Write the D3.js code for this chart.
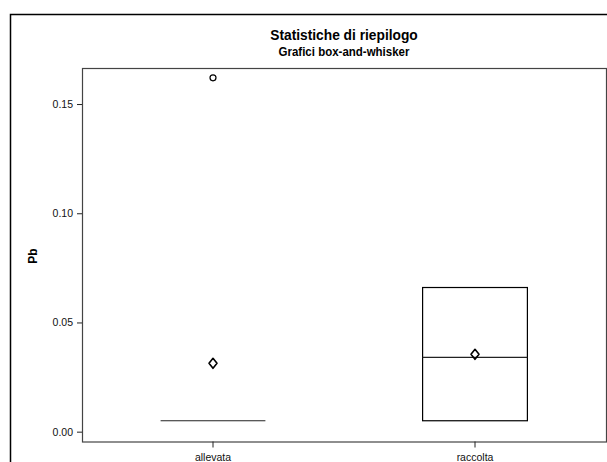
<!DOCTYPE html>
<html><head><meta charset="utf-8">
<script src="https://cdn.jsdelivr.net/npm/d3@7"></script>
<style>
body{margin:0;background:#fff;}
svg{display:block;}
text{font-family:"Liberation Sans",Arial,sans-serif;}
</style></head>
<body>
<svg id="chart" width="607" height="462"></svg>
<script>
const categories = ["allevata", "raccolta"];
const q1 = [0.005, 0.005];
const median = [0.005, 0.034];
const q3 = [0.005, 0.066];
const whiskerLow = [0.005, 0.005];
const whiskerHigh = [0.005, 0.066];
const means = [0.0313, 0.0354];
const outliers = [[0.162], []];
const yTicks = [0.00, 0.05, 0.10, 0.15];

const svg = d3.select("#chart");
const plot = {left: 82, right: 606, top: 68, bottom: 441.5};
const midX = (plot.left + plot.right) / 2;

// outer frame
svg.append("rect").attr("x", 10.5).attr("y", 14.5).attr("width", 620).attr("height", 470)
  .attr("fill", "none").attr("stroke", "#000").attr("stroke-width", 1.5);

const x = d3.scaleBand().domain(categories).range([plot.left, plot.right]).padding(0);
const y = d3.scaleLinear().domain([-0.0045, 0.1665]).range([plot.bottom, plot.top]);

// plot frame
svg.append("rect").attr("x", plot.left + 0.5).attr("y", plot.top + 0.5)
  .attr("width", plot.right - plot.left).attr("height", plot.bottom - plot.top)
  .attr("fill", "none").attr("stroke", "#444").attr("stroke-width", 1.2);

// titles
svg.append("text").attr("x", midX).attr("y", 40)
  .attr("text-anchor", "middle").attr("font-weight", "bold").attr("font-size", 14.5)
  .attr("transform", `translate(${midX},0) scale(0.95,1) translate(${-midX},0)`)
  .text("Statistiche di riepilogo");
svg.append("text").attr("x", midX).attr("y", 56)
  .attr("text-anchor", "middle").attr("font-weight", "bold").attr("font-size", 12.5)
  .attr("transform", `translate(${midX},0) scale(0.92,1) translate(${-midX},0)`)
  .text("Grafici box-and-whisker");

// y axis
const yAxis = d3.axisLeft(y).tickValues(yTicks).tickFormat(d3.format(".2f")).tickSize(5).tickPadding(4);
const gy = svg.append("g").attr("transform", `translate(${plot.left},0)`).call(yAxis);
gy.select(".domain").remove();
gy.selectAll("text").attr("font-size", 10.5).attr("font-family", "\"Liberation Sans\",Arial,sans-serif").attr("fill", "#111");
gy.selectAll("line").attr("stroke", "#222");

// x axis
const xAxis = d3.axisBottom(x).tickSize(6).tickPadding(6);
const gx = svg.append("g").attr("transform", `translate(0,${plot.bottom})`).call(xAxis);
gx.select(".domain").remove();
gx.selectAll("text").attr("font-size", 10.5).attr("font-family", "\"Liberation Sans\",Arial,sans-serif").attr("fill", "#111");
gx.selectAll("line").attr("stroke", "#222");

// y label
svg.append("text").attr("transform", "translate(37,256) rotate(-90)")
  .attr("text-anchor", "middle").attr("font-weight", "bold").attr("font-size", 12).text("Pb");

// boxes
const boxW = x.bandwidth() * 0.4;
categories.forEach((c, i) => {
  const cx = x(c) + x.bandwidth() / 2;
  const g = svg.append("g");
  if (whiskerHigh[i] > q3[i]) {
    g.append("line").attr("x1", cx).attr("x2", cx).attr("y1", y(q3[i])).attr("y2", y(whiskerHigh[i])).attr("stroke", "#000");
  }
  if (whiskerLow[i] < q1[i]) {
    g.append("line").attr("x1", cx).attr("x2", cx).attr("y1", y(q1[i])).attr("y2", y(whiskerLow[i])).attr("stroke", "#000");
  }
  if (q3[i] > q1[i]) {
    g.append("rect").attr("x", cx - boxW / 2).attr("y", y(q3[i])).attr("width", boxW)
      .attr("height", y(q1[i]) - y(q3[i])).attr("fill", "none").attr("stroke", "#000").attr("stroke-width", 1.2);
  }
  g.append("line").attr("x1", cx - boxW / 2).attr("x2", cx + boxW / 2)
    .attr("y1", y(median[i])).attr("y2", y(median[i])).attr("stroke", "#222").attr("stroke-width", 1.2);
  const my = y(means[i]);
  g.append("path").attr("d", `M${cx},${my - 5}L${cx + 4},${my}L${cx},${my + 5}L${cx - 4},${my}Z`)
    .attr("fill", "none").attr("stroke", "#000").attr("stroke-width", 1.6).attr("stroke-linejoin", "round");
  outliers[i].forEach(v => {
    g.append("circle").attr("cx", cx).attr("cy", y(v)).attr("r", 3)
      .attr("fill", "none").attr("stroke", "#000").attr("stroke-width", 1.2);
  });
});
</script>
</body></html>
